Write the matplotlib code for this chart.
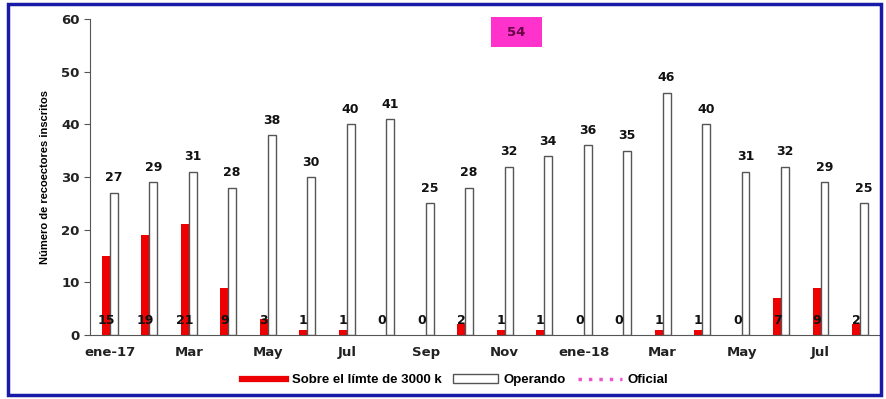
#!/usr/bin/env python3
# Recolectores inscritos por mes: sobre el limite vs operando

import matplotlib
matplotlib.use('Agg')
import numpy as np
from matplotlib import pyplot as plt
from matplotlib.lines import Line2D
from matplotlib.patches import Patch, Rectangle

#
#   Data
#
months = ['ene-17', 'feb', 'Mar', 'abr', 'May', 'jun', 'Jul', 'ago', 'Sep', 'oct',
          'Nov', 'dic', 'ene-18', 'feb', 'Mar', 'abr', 'May', 'jun', 'Jul', 'ago']
sobre_limite = [15, 19, 21, 9, 3, 1, 1, 0, 0, 2, 1, 1, 0, 0, 1, 1, 0, 7, 9, 2]
operando = [27, 29, 31, 28, 38, 30, 40, 41, 25, 28, 32, 34, 36, 35, 46, 40, 31, 32, 29, 25]
tick_labels = ['ene-17', 'Mar', 'May', 'Jul', 'Sep', 'Nov', 'ene-18', 'Mar', 'May', 'Jul']
total_oficial = 54

narrow = ['Liberation Sans Narrow', 'Liberation Sans', 'DejaVu Sans']

fig = plt.figure(figsize=(8.86, 3.99), dpi=100)
ax = fig.add_axes([0.1016, 0.1604, 0.8914, 0.7916])

x = np.arange(len(months))
w = 0.2

ax.bar(x - w / 2, sobre_limite, width=w, color='#ee0000', edgecolor='none', zorder=2)
ax.bar(x + w / 2, operando, width=w, color='white', edgecolor='#555555',
       linewidth=1.0, zorder=2)

# labels for red bars sit near the base
for xi, v in zip(x, sobre_limite):
    ax.text(xi - w / 2, 2.8, str(v), ha='center', va='center',
            fontsize=9, fontweight='bold', color='#111111', zorder=3)

# labels above white bars
for xi, v in zip(x, operando):
    ax.text(xi + w / 2, v + 1.6, str(v), ha='center', va='bottom',
            fontsize=9, fontweight='bold', color='#111111', zorder=3)

ax.set_xlim(-0.5, len(months) - 0.5)
ax.set_ylim(0, 60)
ax.set_yticks(range(0, 61, 10))
ax.set_xticks(x[::2])
ax.set_xticklabels(tick_labels)
ax.tick_params(axis='x', length=0, pad=8)
ax.tick_params(axis='y', length=4, direction='out', color='#555555')
for lab in ax.get_xticklabels() + ax.get_yticklabels():
    lab.set_fontweight('bold')
    lab.set_fontsize(9.5)
    lab.set_color('#222222')

for side in ['top', 'right']:
    ax.spines[side].set_visible(False)
ax.spines['left'].set_color('#555555')
ax.spines['bottom'].set_color('#555555')

ax.set_ylabel('Número de recoectores inscritos', fontsize=8, fontweight='bold',
              family=narrow, labelpad=8)

# total box at the top
fig.patches.append(Rectangle((491 / 886, 1 - 47 / 399), 51 / 886, 30 / 399,
                             transform=fig.transFigure, facecolor='#ff33cc',
                             edgecolor='none'))
fig.text(516.5 / 886, 1 - 32 / 399, str(total_oficial), ha='center', va='center',
         fontsize=9.5, fontweight='bold', color='#660044')

# legend
handles = [
    Line2D([0], [0], color='#ee0000', linewidth=4.5),
    Patch(facecolor='white', edgecolor='#555555'),
    Line2D([0], [0], color='#ee55cc', linewidth=2.5, linestyle=(0, (1, 2))),
]
fig.legend(handles, ['Sobre el límte de 3000 k', 'Operando', 'Oficial'],
           loc='center', bbox_to_anchor=(0.5135, 0.047), ncol=3, frameon=False,
           prop={'family': narrow, 'weight': 'bold', 'size': 9.5},
           handlelength=3.4, columnspacing=0.9, handletextpad=0.4)

# blue frame around the figure
fig.patches.append(Rectangle((0.009, 0.01), 0.985, 0.98, transform=fig.transFigure,
                             fill=False, edgecolor='#1a1aa8', linewidth=2.5))

fig.savefig('out.png', dpi=100)
